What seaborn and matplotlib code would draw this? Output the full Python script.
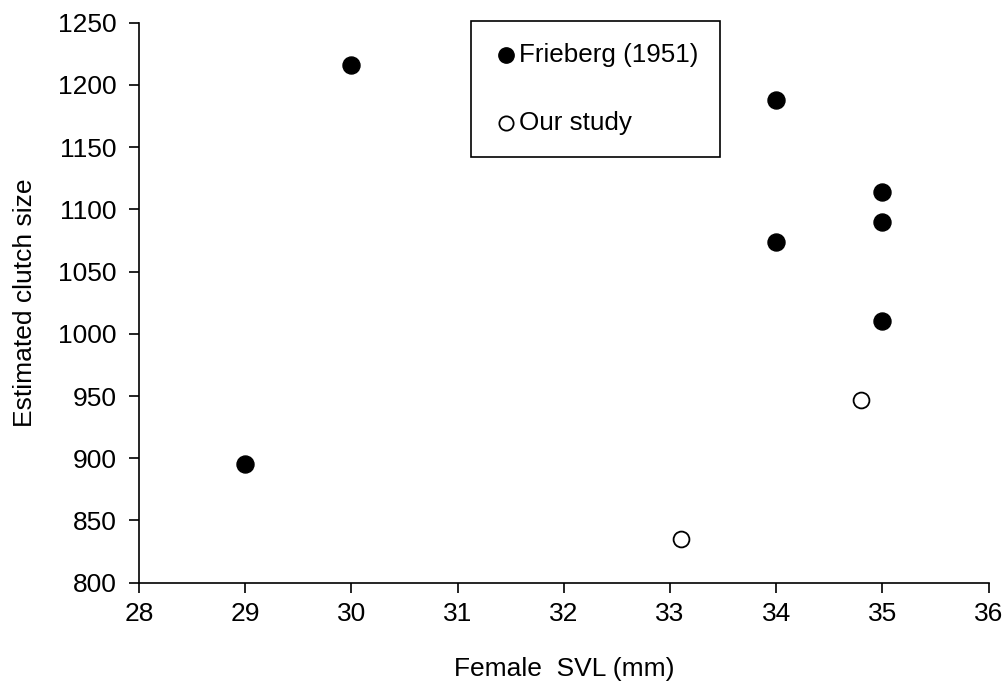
import pandas as pd
import numpy as np
import matplotlib
matplotlib.use('Agg')
import matplotlib.pyplot as plt
import seaborn as sns

# Frieberg (1951) data
frieberg_svl = [29, 30, 34, 34, 35, 35, 35]
frieberg_clutch = [895, 1216, 1188, 1074, 1114, 1090, 1010]

# Our study data
our_svl = [33.1, 34.8]
our_clutch = [835, 947]

x_ticks = [28, 29, 30, 31, 32, 33, 34, 35, 36]
y_ticks = [800, 850, 900, 950, 1000, 1050, 1100, 1150, 1200, 1250]

sns.set_style('ticks')
plt.rcParams['font.family'] = ['Liberation Sans', 'DejaVu Sans']
plt.rcParams['text.color'] = 'black'
plt.rcParams['axes.labelcolor'] = 'black'
plt.rcParams['xtick.color'] = 'black'
plt.rcParams['ytick.color'] = 'black'

df_f = pd.DataFrame({'svl': frieberg_svl, 'clutch': frieberg_clutch})
df_o = pd.DataFrame({'svl': our_svl, 'clutch': our_clutch})

fig = plt.figure(figsize=(10.06, 6.83), dpi=100)
ax = fig.add_axes([0.1382, 0.1469, 0.8446, 0.8199])

sns.scatterplot(data=df_f, x='svl', y='clutch', ax=ax, color='black',
                edgecolor='black', s=150, linewidth=1, label='Frieberg (1951)')
sns.scatterplot(data=df_o, x='svl', y='clutch', ax=ax, color='white',
                edgecolor='black', s=130, linewidth=1.3, label='Our study')

ax.set_xlim(28, 36)
ax.set_ylim(800, 1250)
ax.set_xticks(x_ticks)
ax.set_yticks(y_ticks)
ax.tick_params(axis='both', labelsize=19, length=7, width=1.2, color='black',
               labelcolor='black', direction='out')
ax.tick_params(axis='y', pad=9)
ax.tick_params(axis='x', pad=7)
for s in ['left', 'bottom']:
    ax.spines[s].set_linewidth(1.2)
    ax.spines[s].set_color('black')
sns.despine(ax=ax)

ax.set_xlabel('Female  SVL (mm)', fontsize=19, labelpad=22)
ax.set_ylabel('Estimated clutch size', fontsize=19, labelpad=15)

leg = ax.legend(loc='lower left', bbox_to_anchor=(0.3907, 0.7602),
                borderaxespad=0, frameon=True, fancybox=False,
                edgecolor='black', fontsize=18.7, handletextpad=0.0,
                labelspacing=1.7, borderpad=0.85, handlelength=1.0,
                markerscale=0.9)
leg.get_frame().set_linewidth(1.2)
leg.get_frame().set_alpha(1)

fig.savefig('out.png', dpi=100)
